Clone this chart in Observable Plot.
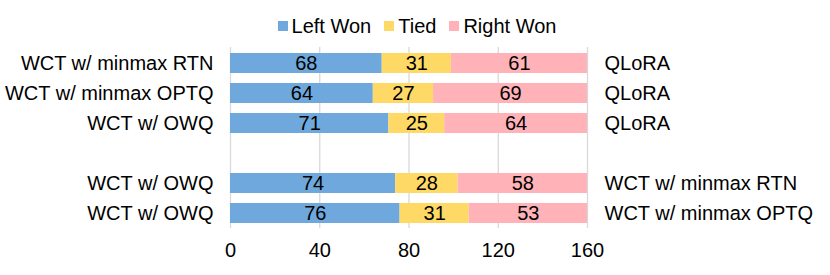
<!DOCTYPE html>
<html>
<head>
<meta charset="utf-8">
<script src="https://cdn.jsdelivr.net/npm/d3@7"></script>
<script src="https://cdn.jsdelivr.net/npm/@observablehq/plot@0.6"></script>
<style>
  html, body { margin: 0; padding: 0; background: #fff; }
  body { width: 830px; height: 275px; overflow: hidden; font-family: "Liberation Sans", Arial, sans-serif; }
  #legend { height: 40px; display: flex; justify-content: center; align-items: center; font-size: 20px; color: #000; padding-top: 12px; box-sizing: border-box; padding-left: 4px; }
  #legend .item { display: flex; align-items: center; margin-right: 13px; }
  #legend .item:last-child { margin-right: 0; }
  #legend .sw { width: 10px; height: 10px; margin-right: 4px; }
</style>
</head>
<body>
<div id="legend"></div>
<div id="chart"></div>
<script>
const rowKeys = ["r1", "r2", "r3", "gap", "r4", "r5"];
const leftLabels = ["WCT w/ minmax RTN", "WCT w/ minmax OPTQ", "WCT w/ OWQ", "WCT w/ OWQ", "WCT w/ OWQ"];
const rightLabels = ["QLoRA", "QLoRA", "QLoRA", "WCT w/ minmax RTN", "WCT w/ minmax OPTQ"];
const barRows = ["r1", "r2", "r3", "r4", "r5"];
const leftWon = [68, 64, 71, 74, 76];
const tied = [31, 27, 25, 28, 31];
const rightWon = [61, 69, 64, 58, 53];
const seriesNames = ["Left Won", "Tied", "Right Won"];
const seriesColors = ["#6fa8dc", "#ffd966", "#ffb3b8"];
const xTicks = [0, 40, 80, 120, 160];

const data = [];
barRows.forEach((r, i) => {
  [leftWon[i], tied[i], rightWon[i]].forEach((v, j) => {
    data.push({row: r, series: seriesNames[j], value: v});
  });
});
const labelRows = barRows.map((r, i) => ({row: r, left: leftLabels[i], right: rightLabels[i]}));

// legend
const legend = document.getElementById("legend");
seriesNames.forEach((s, i) => {
  const it = document.createElement("div");
  it.className = "item";
  const sw = document.createElement("div");
  sw.className = "sw";
  sw.style.background = seriesColors[i];
  const t = document.createElement("span");
  t.textContent = s;
  it.appendChild(sw); it.appendChild(t);
  legend.appendChild(it);
});

const plot = Plot.plot({
  width: 830,
  height: 235,
  marginLeft: 230,
  marginRight: 243,
  marginTop: 7,
  marginBottom: 47,
  style: {fontFamily: "Liberation Sans, Arial, sans-serif", fontSize: "20px", color: "#000", background: "#fff"},
  x: {domain: [0, 160], ticks: xTicks, label: null},
  y: {domain: rowKeys, paddingInner: 0.34, paddingOuter: 0.17, axis: null},
  color: {domain: seriesNames, range: seriesColors},
  marks: [
    Plot.ruleX(xTicks, {stroke: "#d9d9d9", strokeWidth: 1.3}),
    Plot.barX(data, Plot.stackX({x: "value", y: "row", z: "series", fill: "series", order: seriesNames})),
    Plot.text(data, Plot.stackX({x: "value", y: "row", z: "series", text: d => String(d.value), order: seriesNames, fill: "#000", fontSize: 20})),
    Plot.text(labelRows, {x: 0, y: "row", text: "left", textAnchor: "end", dx: -17, fill: "#000", fontSize: 20}),
    Plot.text(labelRows, {x: 160, y: "row", text: "right", textAnchor: "start", dx: 17, fill: "#000", fontSize: 20}),
    Plot.axisX({ticks: xTicks, tickSize: 0, tickPadding: 14, label: null, fontSize: 20, fill: "#000"})
  ]
});
document.getElementById("chart").appendChild(plot);
</script>
</body>
</html>
